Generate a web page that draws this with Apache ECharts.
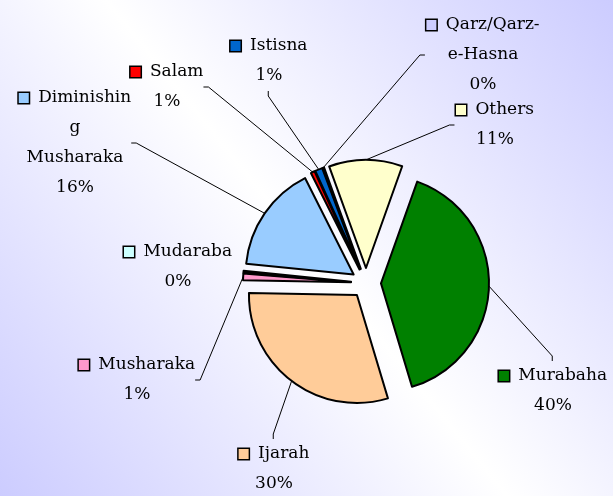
<!DOCTYPE html>
<html>
<head>
<meta charset="utf-8">
<script src="https://cdn.jsdelivr.net/npm/echarts@6/dist/echarts.min.js"></script>
<style>
  html, body { margin: 0; padding: 0; }
  #chart { width: 613px; height: 496px; }
</style>
</head>
<body>
<div id="chart"></div>
<script>
// financing modes, clockwise from Murabaha
const categories = [
  "Murabaha", "Ijarah", "Musharaka", "Mudaraba", "Diminishing Musharaka",
  "Salam", "Istisna", "Qarz/Qarz-e-Hasna", "Others"
];
// label text as wrapped in the picture
const labelNames = [
  "Murabaha", "Ijarah", "Musharaka", "Mudaraba", "Diminishin\ng\nMusharaka",
  "Salam", "Istisna", "Qarz/Qarz-\ne-Hasna", "Others"
];
const values = [40, 30, 1, 0.3, 16, 0.6, 1.1, 0.2, 11];

const colors = [
  "#008000", "#FFCC99", "#FF99CC", "#CCFFFF", "#99CCFF",
  "#FF0000", "#0066CC", "#CCCCFF", "#FFFFCC"
];

// label centres (px)
const labelPos = [
  [553, 391], [274, 469], [137, 380], [178, 267], [75, 143],
  [167, 87], [269, 61], [483, 55], [495, 125]
];

const rich = { sp: { width: 4 } };
colors.forEach((c, i) => {
  rich["b" + i] = {
    width: 10,
    height: 10,
    backgroundColor: c,
    borderColor: "#000",
    borderWidth: 1.5
  };
});

const CENTER = [366, 283];
const R = 108;
const OFFSET = 15;

const chart = echarts.init(document.getElementById("chart"));

chart.setOption({
  backgroundColor: {
    type: "linear",
    x: 1, y: 0, x2: 0, y2: 1,
    colorStops: [
      { offset: 0, color: "#CCCCFF" },
      { offset: 0.5, color: "#FFFFFF" },
      { offset: 1, color: "#CCCCFF" }
    ]
  },
  animation: false,
  series: [
    // exploded slices
    {
      type: "pie",
      center: CENTER,
      radius: R,
      startAngle: 70.4,
      selectedMode: "multiple",
      selectedOffset: OFFSET,
      itemStyle: { borderColor: "#000", borderWidth: 2 },
      select: { itemStyle: { borderColor: "#000", borderWidth: 2 } },
      emphasis: { disabled: true },
      label: { show: false },
      labelLine: { show: false },
      data: categories.map((name, i) => ({
        name: name,
        value: values[i],
        selected: true,
        itemStyle: { color: colors[i] }
      }))
    },
    // invisible copy carrying the labels and leader lines
    {
      type: "pie",
      silent: true,
      center: CENTER,
      radius: R + OFFSET,
      startAngle: 70.4,
      avoidLabelOverlap: false,
      itemStyle: { color: "rgba(0,0,0,0)", borderWidth: 0 },
      emphasis: { disabled: true },
      label: {
        show: true,
        position: "outside",
        fontFamily: "DejaVu Serif",
        fontSize: 17,
        color: "#000",
        lineHeight: 30,
        rich: rich,
        formatter: p =>
          "{b" + p.dataIndex + "|}{sp|} " + labelNames[p.dataIndex] +
          "\n" + Math.round(p.percent) + "%"
      },
      labelLine: {
        show: true,
        length2: 5,
        lineStyle: { color: "#000", width: 1 }
      },
      labelLayout: p => ({
        x: labelPos[p.dataIndex][0],
        y: labelPos[p.dataIndex][1],
        align: "center",
        verticalAlign: "middle"
      }),
      data: categories.map((name, i) => ({
        name: name,
        value: values[i],
        labelLine: { show: name !== "Mudaraba" }
      }))
    }
  ]
});
</script>
</body>
</html>
